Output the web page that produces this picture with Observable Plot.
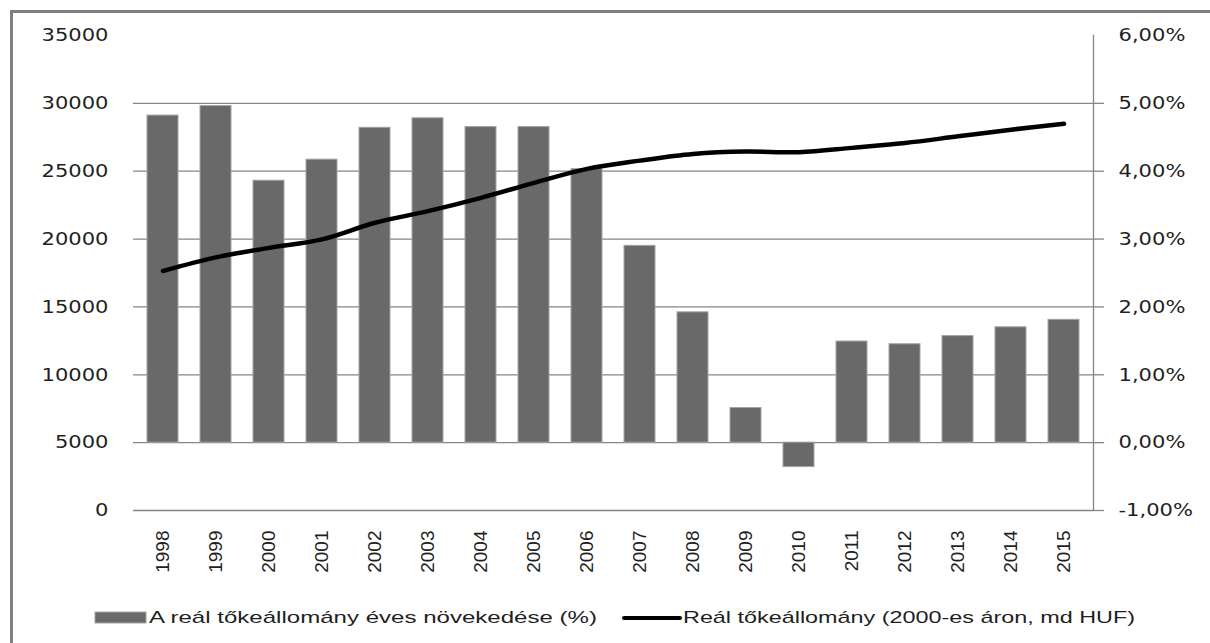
<!DOCTYPE html>
<html>
<head>
<meta charset="utf-8">
<script src="https://cdn.jsdelivr.net/npm/d3@7"></script>
<script src="https://cdn.jsdelivr.net/npm/@observablehq/plot@0.6"></script>
<style>
  html, body { margin: 0; padding: 0; background: #fff; }
  #wrap { position: relative; width: 1210px; height: 643px; overflow: hidden; }
  #border { position: absolute; left: 10px; top: 10px; width: 1300px; height: 700px;
            border-top: 3px solid #7f7f7f; border-left: 3px solid #7f7f7f; pointer-events: none; }
  svg { display: block; }
</style>
</head>
<body>
<div id="wrap">
  <div id="chart"></div>
  <div id="legend"></div>
  <div id="border"></div>
</div>
<script>
// ---- data ----
const years = ["1998","1999","2000","2001","2002","2003","2004","2005","2006",
               "2007","2008","2009","2010","2011","2012","2013","2014","2015"];
// annual growth of real capital stock (%), right axis
const growthPct = [4.82, 4.96, 3.86, 4.17, 4.64, 4.78, 4.65, 4.65, 4.03,
                   2.90, 1.92, 0.51, -0.36, 1.49, 1.45, 1.57, 1.70, 1.81];
// real capital stock (2000 prices, bn HUF), left axis
const capitalStock = [17650, 18650, 19350, 19980, 21200, 22060, 23040, 24140, 25170,
                      25780, 26270, 26450, 26400, 26720, 27080, 27570, 28060, 28500];
const leftTicks = [0, 5000, 10000, 15000, 20000, 25000, 30000, 35000];
const pctTicks = [-1, 0, 1, 2, 3, 4, 5, 6];
const gridValues = [5000, 10000, 15000, 20000, 25000, 30000];
const legendLabels = ["A reál tőkeállomány éves növekedése (%)",
                      "Reál tőkeállomány (2000-es áron, md HUF)"];

// right axis relation: -1% ↔ 0, 6% ↔ 35000
const yOf = p => 5000 + p * 5000;
const pctLabel = v => ((v - 5000) / 5000).toFixed(2).replace(".", ",") + "%";

const bars = years.map((y, i) => ({year: y, pct: growthPct[i]}));
const line = years.map((y, i) => ({year: y, value: capitalStock[i]}));

const grid = "#868686";
const chart = Plot.plot({
  width: 1210, height: 590,
  marginLeft: 133, marginRight: 117, marginTop: 35, marginBottom: 80,
  style: {fontFamily: "DejaVu Sans", fontSize: "18px", color: "#1f1f1f", background: "transparent"},
  x: {domain: years, paddingInner: 0.42, paddingOuter: 0.21, label: null},
  y: {domain: [0, 35000], label: null},
  marks: [
    Plot.ruleY(gridValues, {stroke: grid, strokeWidth: 1.3}),
    Plot.barY(bars, {x: "year", y1: () => yOf(0), y2: d => yOf(d.pct),
                     fill: "#696969", stroke: "#a3a3a3", strokeWidth: 1}),
    Plot.ruleY([0], {stroke: grid, strokeWidth: 1.5}),
    Plot.frame({anchor: "right", stroke: grid, strokeWidth: 1.3}),
    Plot.lineY(line, {x: "year", y: "value", curve: "catmull-rom", stroke: "#000",
                      strokeWidth: 4.5, strokeLinecap: "round", strokeLinejoin: "round"}),
    Plot.axisY({anchor: "left", ticks: leftTicks, tickSize: 0, tickPadding: 25,
                tickFormat: d => String(d), fill: "#1f1f1f", fontSize: 18, fontFamily: "DejaVu Sans"}),
    Plot.axisY({anchor: "right", ticks: pctTicks.map(yOf), tickSize: 0, tickPadding: 25,
                tickFormat: pctLabel, fill: "#1f1f1f", fontSize: 18, fontFamily: "DejaVu Sans"}),
    Plot.axisY({anchor: "right", ticks: pctTicks.slice(0, -1).map(yOf), tickSize: 10,
                tickFormat: () => "", stroke: grid, strokeWidth: 1.3}),
    Plot.axisX({tickSize: 0, tickRotate: -90, tickPadding: 20, fill: "#1f1f1f",
                fontSize: 19, fontFamily: "Liberation Sans"})
  ]
});
document.getElementById("chart").appendChild(chart);

// horizontally widen y tick labels like the reference
chart.querySelectorAll('g[aria-label="y-axis tick label"] text').forEach(t => {
  const w = t.getComputedTextLength();
  if (w > 0) { t.setAttribute("textLength", w * 1.17); t.setAttribute("lengthAdjust", "spacingAndGlyphs"); }
});

// ---- legend ----
const lg = d3.select("#legend").append("svg").attr("width", 1210).attr("height", 53);
lg.append("rect").attr("x", 95).attr("y", 22).attr("width", 51).attr("height", 11)
  .attr("fill", "#696969").attr("stroke", "#a3a3a3").attr("stroke-width", 1);
lg.append("text").attr("x", 149).attr("y", 33).text(legendLabels[0])
  .attr("font-family", "Liberation Sans").attr("font-size", 17).attr("fill", "#1f1f1f")
  .attr("textLength", 448).attr("lengthAdjust", "spacingAndGlyphs");
lg.append("line").attr("x1", 624).attr("x2", 680).attr("y1", 28).attr("y2", 28)
  .attr("stroke", "#000").attr("stroke-width", 4).attr("stroke-linecap", "round");
lg.append("text").attr("x", 683).attr("y", 33).text(legendLabels[1])
  .attr("font-family", "Liberation Sans").attr("font-size", 17).attr("fill", "#1f1f1f")
  .attr("textLength", 452).attr("lengthAdjust", "spacingAndGlyphs");
</script>
</body>
</html>
